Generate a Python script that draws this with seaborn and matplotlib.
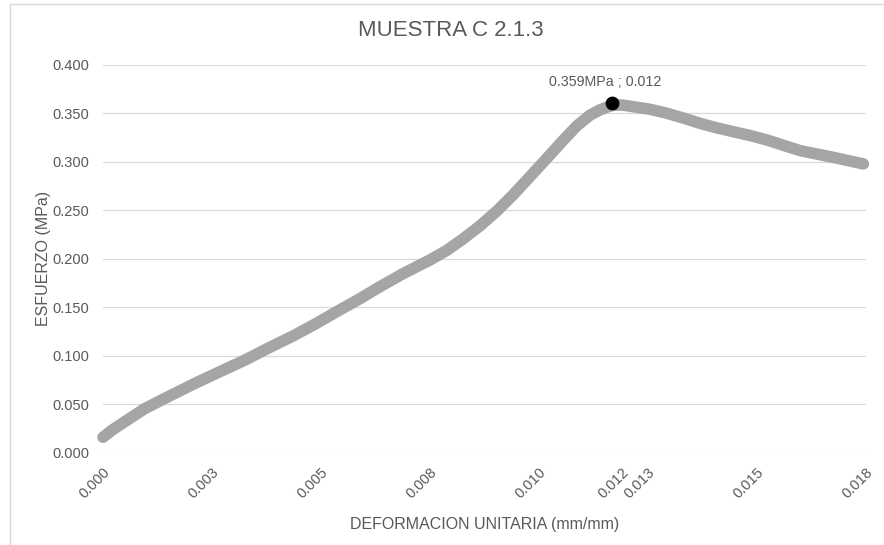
import numpy as np
import pandas as pd
import seaborn as sns
import matplotlib.pyplot as plt
from matplotlib.patches import Rectangle

# curva esfuerzo - deformacion
deformacion = [0.0000, 0.0002, 0.0005, 0.00096, 0.00155, 0.00211, 0.00268, 0.00326,
               0.0038, 0.0044, 0.0049, 0.00536, 0.0059, 0.00635, 0.0069, 0.0075,
               0.0079, 0.00826, 0.00865, 0.00903, 0.00941, 0.00979, 0.01018, 0.01056,
               0.01087, 0.01117, 0.0114, 0.01167, 0.0119, 0.01216, 0.01255, 0.01293,
               0.01331, 0.01369, 0.01407, 0.01445, 0.01484, 0.01522, 0.0156, 0.01599,
               0.01636, 0.01674, 0.0171, 0.01744]
esfuerzo = [0.0159, 0.0230, 0.0320, 0.0455, 0.0590, 0.0715, 0.0835, 0.0956,
            0.1080, 0.1213, 0.1335, 0.1454, 0.1590, 0.1711, 0.1850, 0.1987,
            0.2090, 0.2205, 0.2340, 0.2490, 0.2660, 0.2845, 0.3035, 0.3224,
            0.3370, 0.3480, 0.3535, 0.3580, 0.3585, 0.3567, 0.3540, 0.3500,
            0.3450, 0.3396, 0.3350, 0.3310, 0.3270, 0.3225, 0.3170, 0.3114,
            0.3080, 0.3046, 0.3010, 0.2977]

pico_x = 0.01167
pico_y = 0.361
pico_label = "0.359MPa ; 0.012"

x_ticks = [0.0, 0.0025, 0.005, 0.0075, 0.010, 0.0119, 0.0125, 0.015, 0.0175]
x_ticklabels = ["0.000", "0.003", "0.005", "0.008", "0.010", "0.012", "0.013", "0.015", "0.018"]
y_ticks = [0.0, 0.05, 0.10, 0.15, 0.20, 0.25, 0.30, 0.35, 0.40]
y_ticklabels = ["0.000", "0.050", "0.100", "0.150", "0.200", "0.250", "0.300", "0.350", "0.400"]

sns.set_style("white")
plt.rcParams['font.family'] = ['Liberation Sans', 'DejaVu Sans']
TXT = '#595959'

df = pd.DataFrame({'x': deformacion, 'y': esfuerzo})

fig = plt.figure(figsize=(8.84, 5.45), dpi=100)
ax = fig.add_axes([103/884, 92.3/545, 763/884, 388/545])

sns.lineplot(data=df, x='x', y='y', ax=ax, color='#A5A5A5', linewidth=8.3,
             sort=False, solid_capstyle='round', solid_joinstyle='round', zorder=3,
             clip_on=False)
sns.scatterplot(x=[pico_x], y=[pico_y], ax=ax, color='black', s=85, zorder=4,
                edgecolor='black', clip_on=False)
ax.annotate(pico_label, (pico_x, pico_y), xytext=(-5, 14.5), textcoords='offset points',
            ha='center', va='center', fontsize=10.3, color=TXT)

ax.set_xlim(0, 0.0175)
ax.set_ylim(0, 0.4)
ax.set_yticks(y_ticks)
ax.set_yticklabels(y_ticklabels, fontsize=10.5, color=TXT)
ax.set_xticks(x_ticks)
ax.set_xticklabels(x_ticklabels, fontsize=10.5, color=TXT, rotation=45,
                   ha='right', va='top', rotation_mode='anchor')
ax.tick_params(axis='y', length=0, pad=10)
ax.tick_params(axis='x', length=0, pad=9)
ax.yaxis.grid(True, color='#D9D9D9', linewidth=0.9)
ax.xaxis.grid(False)
for s in ax.spines.values():
    s.set_visible(False)

ax.set_xlabel('DEFORMACION UNITARIA (mm/mm)', fontsize=11.5, color=TXT)
ax.set_ylabel('ESFUERZO (MPa)', fontsize=11.5, color=TXT)
ax.xaxis.set_label_coords(0.5, -0.165)
ax.yaxis.set_label_coords(-0.068, 0.5)

fig.text(451/884, 1 - 31/545, 'MUESTRA C 2.1.3', ha='center', va='center', fontsize=16, color=TXT)

fig.patches.append(Rectangle((9.5/884, -0.1), 1.2, 1.1 - 4/545, transform=fig.transFigure,
                             fill=False, edgecolor='#D9D9D9', linewidth=1.0))

plt.savefig('out.png', dpi=100)
